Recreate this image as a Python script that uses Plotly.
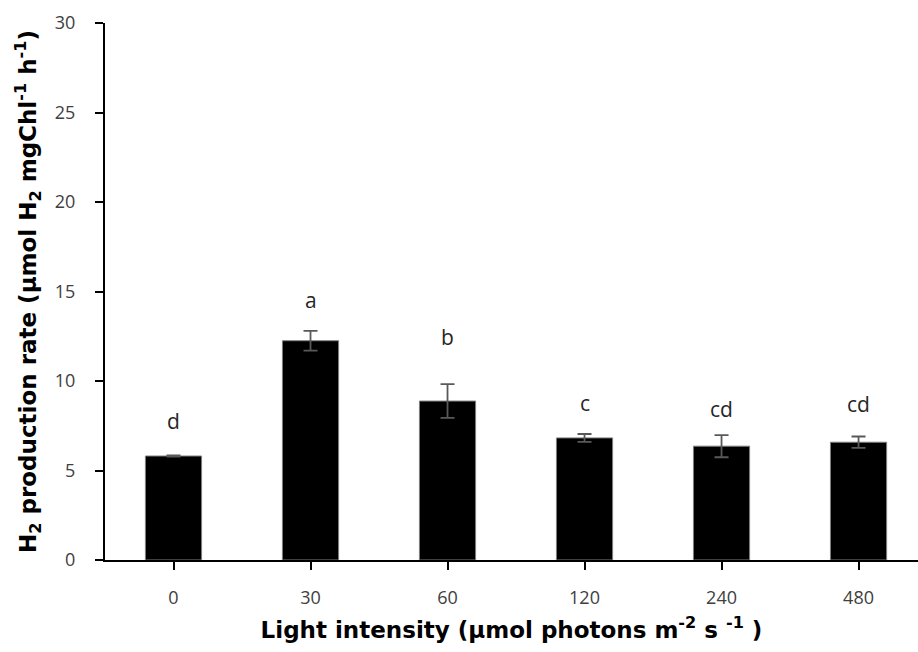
import plotly.graph_objects as go

categories = ["0", "30", "60", "120", "240", "480"]
rates = [5.81, 12.25, 8.88, 6.82, 6.36, 6.58]
errors = [0.03, 0.55, 0.94, 0.22, 0.62, 0.32]
letters = ["d", "a", "b", "c", "cd", "cd"]
y_ticks = [0, 5, 10, 15, 20, 25, 30]

# label placement above error bars (style)
label_offset = 1.75
label_nudge = [0.2, 0.0, 0.9, 0.0, -0.3, 0.05]
tick_font = "Open Sans, sans-serif"
title_font = "DejaVu Sans, sans-serif"

fig = go.Figure()
fig.add_trace(go.Bar(
    x=list(range(len(categories))), y=rates,
    width=0.41,
    marker=dict(color="black", line=dict(color="#7f7f7f", width=1)),
    error_y=dict(type="data", array=errors, visible=True,
                 color="#595959", thickness=1.8, width=7),
    showlegend=False,
))

for i, (v, e, t) in enumerate(zip(rates, errors, letters)):
    fig.add_annotation(x=i, y=v + e + label_offset + label_nudge[i], text=t, showarrow=False,
                       yanchor="middle", font=dict(size=21, color="#262626", family=tick_font))

fig.update_layout(
    width=918, height=652,
    margin=dict(l=105, r=0, t=23, b=92),
    plot_bgcolor="white", paper_bgcolor="white",
    font=dict(family=tick_font, color="#404040", size=18),
)
fig.update_xaxes(
    range=[-0.5, 5.434],
    tickvals=list(range(len(categories))), ticktext=categories,
    showline=True, linecolor="black", linewidth=2,
    ticks="outside", ticklen=8, tickwidth=2, tickcolor="black",
    ticklabelstandoff=12,
    tickfont=dict(size=18, color="#404040"),
    title=dict(text="Light intensity (µmol photons m<sup>-2</sup> s <sup>-1</sup> )",
               font=dict(size=23, color="black", family=title_font, weight="bold"), standoff=14),
    showgrid=False, zeroline=False, automargin=False,
)
fig.update_yaxes(
    range=[0, 30], tickvals=y_ticks,
    showline=True, linecolor="black", linewidth=2,
    ticks="outside", ticklen=8, tickwidth=2, tickcolor="black",
    ticklabelstandoff=16,
    tickfont=dict(size=18, color="#404040"),
    title=dict(text="H<sub>2</sub> production rate (µmol H<sub>2</sub> mgChl<sup>-1</sup> h<sup>-1</sup>)",
               font=dict(size=23, color="black", family=title_font, weight="bold"), standoff=12),
    showgrid=False, zeroline=False, automargin=False,
)

fig.write_html("out.html", config={"displayModeBar": False},
               post_script="document.body.style.margin='0';")
